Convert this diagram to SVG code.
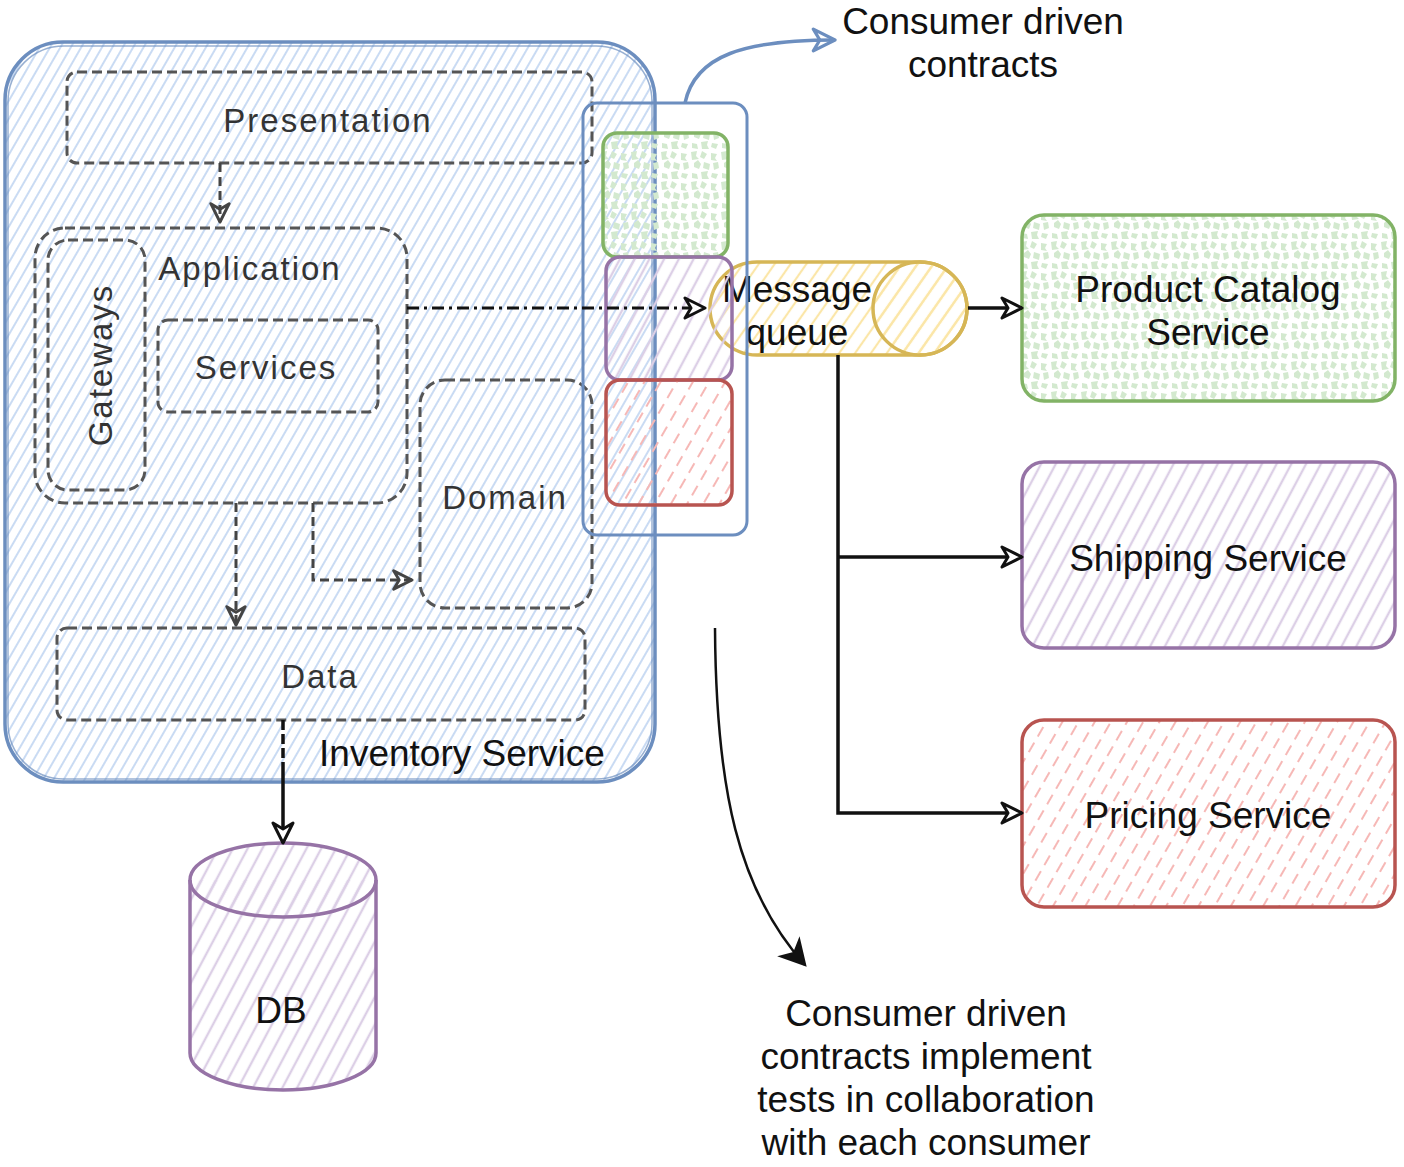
<svg xmlns="http://www.w3.org/2000/svg" width="1404" height="1167" viewBox="0 0 1404 1167">
<defs>
<pattern id="hBlue" width="9" height="9" patternUnits="userSpaceOnUse" patternTransform="rotate(30)">
<line x1="4" y1="0" x2="4" y2="9" stroke="#bcd2f0" stroke-width="1.6"/>
</pattern>
<pattern id="hPurple" width="13" height="13" patternUnits="userSpaceOnUse" patternTransform="rotate(28)">
<line x1="6" y1="0" x2="6" y2="13" stroke="#dccfe6" stroke-width="2.4"/>
</pattern>
<pattern id="hYellow" width="13" height="13" patternUnits="userSpaceOnUse" patternTransform="rotate(35)">
<line x1="6" y1="0" x2="6" y2="13" stroke="#fbe6a8" stroke-width="2.2"/>
</pattern>
<pattern id="hRed" width="14" height="18" patternUnits="userSpaceOnUse" patternTransform="rotate(30)">
<line x1="7" y1="0" x2="7" y2="11" stroke="#f6b8b6" stroke-width="2"/>
</pattern>
<pattern id="hGreen" width="30" height="30" patternUnits="userSpaceOnUse">
<g fill="#d3e9cf">
<path d="M1 2 l6 -1 l-1 5 l3 3 l-7 1 z"/>
<path d="M12 1 l5 3 l-3 5 l-4 -2 z"/>
<path d="M21 3 l6 1 l-2 4 l2 3 l-6 -1 z"/>
<path d="M4 13 l4 -3 l3 4 l-2 5 l-5 -2 z"/>
<path d="M14 12 l6 2 l-1 6 l-6 -2 z"/>
<path d="M23 13 l5 -1 l1 6 l-5 2 z"/>
<path d="M2 23 l5 1 l1 5 l-6 -1 z"/>
<path d="M11 22 l7 -1 l-1 4 l2 4 l-7 0 z"/>
<path d="M22 23 l6 1 l-2 5 l-5 -2 z"/>
</g>
</pattern>
<marker id="openDark" viewBox="0 0 12 12" refX="11" refY="6" markerWidth="22" markerHeight="22" orient="auto" markerUnits="userSpaceOnUse">
<path d="M1 1 L11 6 L1 11 L4 6 Z" fill="none" stroke="#444" stroke-width="1.6" stroke-linejoin="round"/>
</marker>
<marker id="openSolid" viewBox="0 0 12 12" refX="11" refY="6" markerWidth="24" markerHeight="24" orient="auto" markerUnits="userSpaceOnUse">
<path d="M1 1 L11 6 L1 11 L4 6 Z" fill="#fff" stroke="#111" stroke-width="1.5" stroke-linejoin="round"/>
</marker>
<marker id="openBlue" viewBox="0 0 12 12" refX="11" refY="6" markerWidth="26" markerHeight="26" orient="auto" markerUnits="userSpaceOnUse">
<path d="M1 1 L11 6 L1 11 L4 6 Z" fill="none" stroke="#6c8ebf" stroke-width="1.5" stroke-linejoin="round"/>
</marker>
<marker id="filledBlack" viewBox="0 0 12 12" refX="10" refY="6" markerWidth="30" markerHeight="30" orient="auto" markerUnits="userSpaceOnUse">
<path d="M0 0 L11 6 L0 12 L3 6 Z" fill="#111"/>
</marker>
</defs>
<style>
text{font-family:"Liberation Sans",Arial,sans-serif;font-size:37px;fill:#111;text-anchor:middle}
.layer{fill:none;stroke:#555;stroke-width:3;stroke-dasharray:10 5}
.lbl{font-size:33px;fill:#333;letter-spacing:2px}
.svc{stroke-width:3.5}
</style>

<g id="inventory-service">
<rect x="5" y="42" width="650" height="740" rx="58" fill="url(#hBlue)" stroke="#6c8ebf" stroke-width="3.5"/>
<rect x="8" y="46" width="644" height="733" rx="56" fill="none" stroke="#6c8ebf" stroke-width="1.5" opacity="0.7"/>
<text x="462" y="766">Inventory Service</text>
</g>

<g id="presentation">
<rect class="layer" x="67" y="72" width="525" height="91" rx="10"/>
<text class="lbl" x="328" y="132">Presentation</text>
</g>

<g id="application">
<rect class="layer" x="35" y="228" width="372" height="275" rx="30"/>
<text class="lbl" x="250" y="280">Application</text>
</g>

<g id="gateways">
<rect class="layer" x="48" y="240" width="97" height="250" rx="20"/>
<text class="lbl" transform="translate(112 365) rotate(-90)">Gateways</text>
</g>

<g id="services">
<rect class="layer" x="158" y="320" width="220" height="92" rx="10"/>
<text class="lbl" x="266" y="379">Services</text>
</g>

<g id="domain">
<rect class="layer" x="420" y="380" width="172" height="228" rx="25"/>
<text class="lbl" x="505" y="509">Domain</text>
</g>

<g id="data">
<rect class="layer" x="57" y="628" width="528" height="92" rx="10"/>
<text class="lbl" x="320" y="688">Data</text>
</g>

<g id="message-queue">
<path d="M757 262 L920 262 A47 46.5 0 0 1 920 355 L757 355 A47 46.5 0 0 1 757 262 Z" fill="#fff" stroke="none"/>
<path d="M757 262 L920 262 A47 46.5 0 0 1 920 355 L757 355 A47 46.5 0 0 1 757 262 Z" fill="url(#hYellow)" stroke="#d6b656" stroke-width="3.5"/>
<ellipse cx="920" cy="308.5" rx="47" ry="46.5" fill="url(#hYellow)" stroke="#d6b656" stroke-width="3.5"/>
<text x="797" y="302">Message</text>
<text x="797" y="345">queue</text>
</g>

<g id="contracts-box">
<rect x="583" y="103" width="164" height="432" rx="14" fill="none" stroke="#6c8ebf" stroke-width="3"/>
</g>

<g id="contract-green">
<rect x="603" y="133" width="125" height="124" rx="14" fill="url(#hGreen)" stroke="#82b366" stroke-width="3.5"/>
</g>
<g id="contract-purple">
<rect x="606" y="257" width="126" height="123" rx="14" fill="url(#hPurple)" stroke="#9673a6" stroke-width="3.5"/>
</g>
<g id="contract-red">
<rect x="606" y="380" width="126" height="125" rx="14" fill="url(#hRed)" stroke="#b85450" stroke-width="3.5"/>
</g>

<g id="product-catalog-service">
<rect class="svc" x="1022" y="215" width="373" height="186" rx="22" fill="url(#hGreen)" stroke="#82b366"/>
<text x="1208" y="302">Product Catalog</text>
<text x="1208" y="345">Service</text>
</g>

<g id="shipping-service">
<rect class="svc" x="1022" y="462" width="373" height="186" rx="22" fill="url(#hPurple)" stroke="#9673a6"/>
<text x="1208" y="571">Shipping Service</text>
</g>

<g id="pricing-service">
<rect class="svc" x="1022" y="720" width="373" height="187" rx="22" fill="url(#hRed)" stroke="#b85450"/>
<text x="1208" y="828">Pricing Service</text>
</g>

<g id="db">
<path d="M190 880 L190 1053 A93 37 0 0 0 376 1053 L376 880" fill="url(#hPurple)" stroke="#9673a6" stroke-width="3.5"/>
<ellipse cx="283" cy="880" rx="93" ry="37" fill="url(#hPurple)" stroke="#9673a6" stroke-width="3.5"/>
<text x="281" y="1023">DB</text>
</g>

<g id="notes">
<text x="983" y="34">Consumer driven</text>
<text x="983" y="77">contracts</text>
<text x="926" y="1026">Consumer driven</text>
<text x="926" y="1069">contracts implement</text>
<text x="926" y="1112">tests in collaboration</text>
<text x="926" y="1155">with each consumer</text>
</g>

<g id="connectors" fill="none">
<path d="M220 163 L220 222" stroke="#444" stroke-width="3" stroke-dasharray="9 5" marker-end="url(#openDark)"/>
<path d="M236 503 L236 625" stroke="#444" stroke-width="3" stroke-dasharray="9 5" marker-end="url(#openDark)"/>
<path d="M313 503 L313 580 L412 580" stroke="#444" stroke-width="3" stroke-dasharray="9 5" marker-end="url(#openDark)"/>
<path d="M407 308 L705 308" stroke="#111" stroke-width="3.2" stroke-dasharray="12 5 3 5" marker-end="url(#openSolid)"/>
<path d="M283 720 L283 843" stroke="#111" stroke-width="3.5" stroke-dasharray="10 4 10 4 10 4 85" marker-end="url(#openSolid)"/>
<path d="M968 308 L1022 308" stroke="#111" stroke-width="3.5" marker-end="url(#openSolid)"/>
<path d="M838 355 L838 813 L1022 813" stroke="#111" stroke-width="3.5" marker-end="url(#openSolid)"/>
<path d="M838 557 L1022 557" stroke="#111" stroke-width="3.5" marker-end="url(#openSolid)"/>
<path d="M685 103 C695 55 745 40 835 40" stroke="#6c8ebf" stroke-width="3.5" marker-end="url(#openBlue)"/>
<path d="M715 628 C716 790 738 890 805 965" stroke="#111" stroke-width="2.5" marker-end="url(#filledBlack)"/>
</g>
</svg>
